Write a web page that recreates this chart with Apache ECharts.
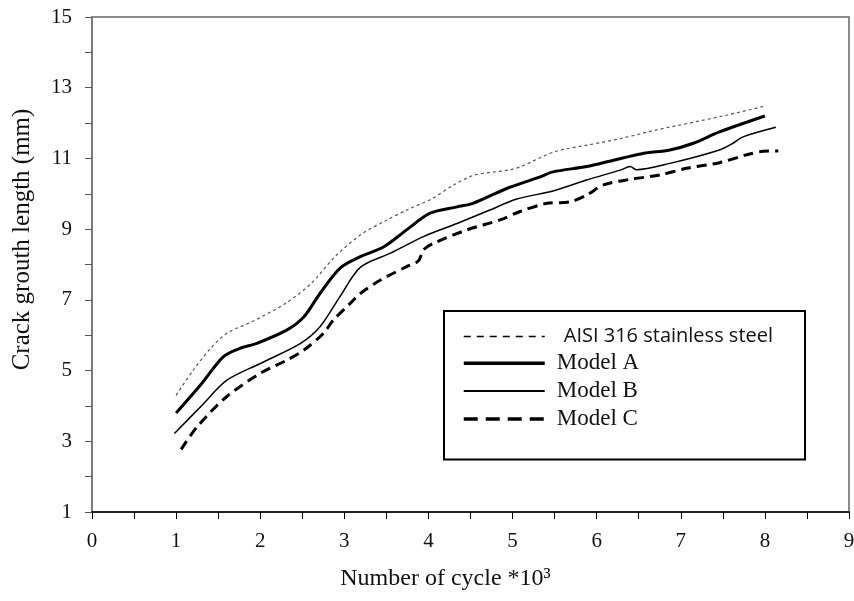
<!DOCTYPE html>
<html>
<head>
<meta charset="utf-8">
<script src="https://cdn.jsdelivr.net/npm/echarts@6/dist/echarts.min.js"></script>
<style>
  html, body { margin: 0; padding: 0; background: #fff; }
  #chart { width: 854px; height: 601px; }
</style>
</head>
<body>
<div id="chart"></div>
<script>
// [cycles *10^3, crack length mm]
const aisi = [
  [1.0, 4.3], [1.2, 5.0], [1.4, 5.6], [1.6, 6.05], [1.9, 6.38], [2.3, 6.9],
  [2.6, 7.45], [2.9, 8.25], [3.2, 8.85], [3.5, 9.25], [3.75, 9.55], [4.05, 9.87],
  [4.3, 10.25], [4.55, 10.53], [4.95, 10.67], [5.1, 10.77], [5.5, 11.19],
  [5.9, 11.38], [6.3, 11.57], [6.7, 11.8], [7.1, 12.0], [7.5, 12.2], [8.0, 12.48]
]
const modelA = [
  [1.0, 3.8], [1.3, 4.62], [1.56, 5.39], [1.76, 5.63], [1.96, 5.77], [2.32, 6.15],
  [2.52, 6.52], [2.71, 7.18], [2.95, 7.9], [3.19, 8.22], [3.47, 8.5], [3.74, 8.98],
  [4.02, 9.45], [4.34, 9.63], [4.53, 9.73], [4.93, 10.15], [5.33, 10.48],
  [5.48, 10.62], [5.88, 10.77], [6.2, 10.95], [6.55, 11.14], [6.87, 11.24],
  [7.15, 11.43], [7.46, 11.75], [8.0, 12.2]
]
const modelB = [
  [0.98, 3.22], [1.3, 4.0], [1.6, 4.72], [2.0, 5.2], [2.48, 5.77], [2.71, 6.24],
  [2.95, 7.1], [3.19, 7.92], [3.55, 8.32], [3.94, 8.79], [4.34, 9.16], [4.73, 9.54],
  [5.05, 9.85], [5.48, 10.08], [5.88, 10.39], [6.28, 10.67], [6.4, 10.77],
  [6.47, 10.68], [6.87, 10.86], [7.46, 11.24], [7.62, 11.43], [7.74, 11.61],
  [8.13, 11.88]
]
const modelC = [
  [1.06, 2.77], [1.25, 3.41], [1.6, 4.26], [2.0, 4.92], [2.32, 5.3], [2.52, 5.58],
  [2.75, 6.05], [2.87, 6.43], [3.07, 6.9], [3.19, 7.18], [3.43, 7.56], [3.74, 7.94],
  [3.88, 8.1], [3.94, 8.41], [4.06, 8.6], [4.46, 8.98], [4.85, 9.26], [5.09, 9.5],
  [5.41, 9.73], [5.68, 9.77], [5.88, 9.96], [6.08, 10.25], [6.4, 10.41],
  [6.75, 10.53], [7.07, 10.72], [7.46, 10.88], [7.78, 11.1], [7.98, 11.2],
  [8.16, 11.21]
]
const seriesNames = ['AISI 316 stainless steel', 'Model A', 'Model B', 'Model C']

const serif = 'Liberation Serif'
const chart = echarts.init(document.getElementById('chart'))

const lineSeries = (name, data, lineStyle) => ({
  name,
  type: 'line',
  data,
  smooth: 0.3,
  symbol: 'none',
  animation: false,
  lineStyle: Object.assign({ color: '#000' }, lineStyle),
  itemStyle: { color: '#000' },
})

chart.setOption({
  backgroundColor: '#fff',
  grid: {
    left: 92,
    right: 5,
    top: 17,
    bottom: 89,
    outerBoundsMode: 'none',
    show: true,
    borderColor: '#666',
    borderWidth: 1.5,
  },
  xAxis: {
    type: 'value',
    min: 0,
    max: 9,
    interval: 0.5,
    name: 'Number of cycle *10³',
    nameLocation: 'middle',
    nameGap: 55,
    nameTextStyle: { fontFamily: serif, fontSize: 24, color: '#111', padding: [0, 50, 0, 0] },
    axisLine: { lineStyle: { color: '#000', width: 1.5 } },
    axisTick: { show: true, inside: false, length: 7, lineStyle: { color: '#000' } },
    axisLabel: {
      margin: 19,
      fontFamily: serif,
      fontSize: 21,
      color: '#111',
      formatter: (v) => (Number.isInteger(v) ? String(v) : ''),
    },
    splitLine: { show: false },
  },
  yAxis: {
    type: 'value',
    min: 1,
    max: 15,
    interval: 1,
    name: 'Crack grouth length (mm)',
    nameLocation: 'middle',
    nameGap: 57,
    nameTextStyle: { fontFamily: serif, fontSize: 25, color: '#111', padding: [0, 0, 0, 50] },
    axisLine: { show: true, lineStyle: { color: '#777', width: 1.5 } },
    axisTick: { show: true, inside: false, length: 7, lineStyle: { color: '#555' } },
    axisLabel: {
      margin: 20,
      fontFamily: serif,
      fontSize: 21,
      color: '#111',
      formatter: (v) => ((v - 1) % 2 === 0 ? String(v) : ''),
    },
    splitLine: { show: false },
  },
  legend: {
    orient: 'vertical',
    left: 444,
    top: 311,
    padding: [15, 32, 29, 18],
    itemWidth: 81,
    itemHeight: 14,
    itemGap: 4.8,
    borderColor: '#000',
    borderWidth: 2,
    borderRadius: 0,
    backgroundColor: '#fff',
    itemStyle: { color: 'transparent', opacity: 0, borderWidth: 0 },
    textStyle: { fontFamily: serif, fontSize: 23, color: '#111', lineHeight: 21, padding: [0, 0, 0, 7] },
    data: [
      {
        name: seriesNames[0],
        textStyle: { fontFamily: 'Open Sans', fontSize: 20, padding: [0, 0, 0, 14] },
        lineStyle: { type: [7, 6], width: 1.5, color: '#000' },
      },
      { name: seriesNames[1], lineStyle: { type: 'solid', width: 3.5, color: '#000' } },
      { name: seriesNames[2], lineStyle: { type: 'solid', width: 2, color: '#000' } },
      { name: seriesNames[3], lineStyle: { type: [14, 8], width: 3.5, color: '#000' } },
    ],
  },
  series: [
    lineSeries(seriesNames[0], aisi, { type: [3, 3], width: 1.2, color: '#555' }),
    lineSeries(seriesNames[1], modelA, { width: 3 }),
    lineSeries(seriesNames[2], modelB, { width: 1.5 }),
    lineSeries(seriesNames[3], modelC, { type: [10, 6], width: 3 }),
  ],
})
</script>
</body>
</html>
